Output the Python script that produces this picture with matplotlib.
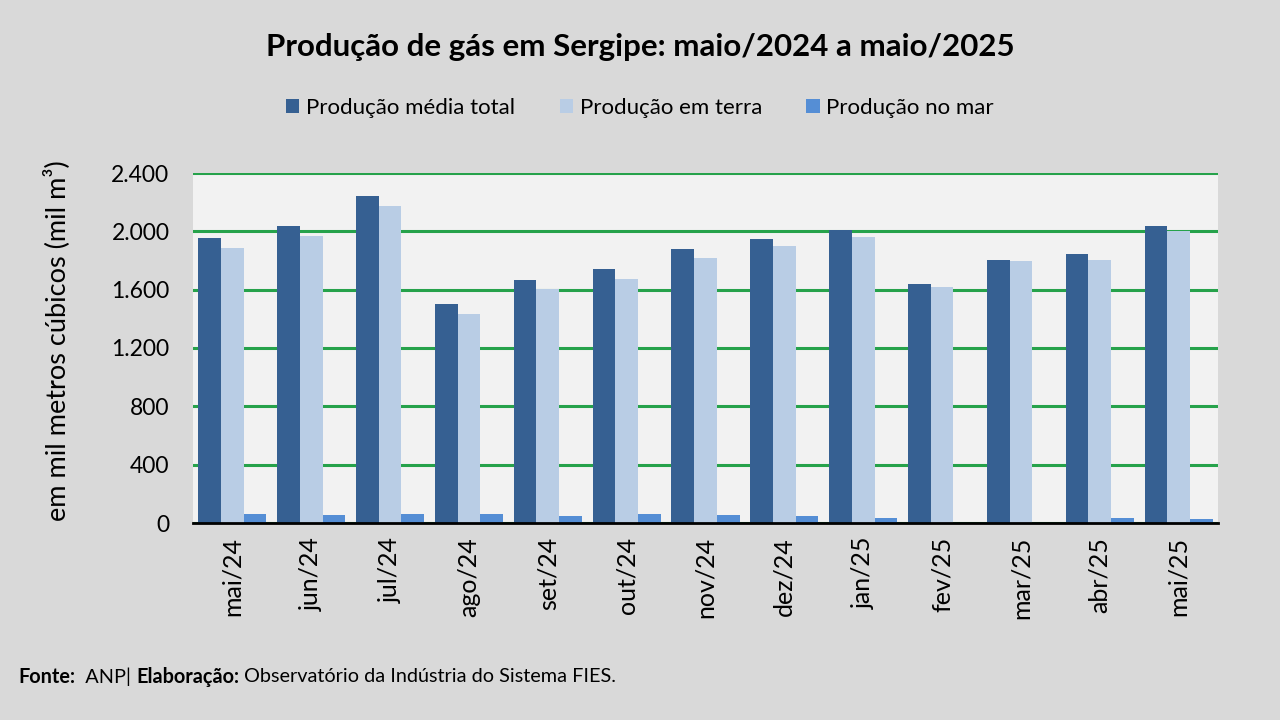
import matplotlib
matplotlib.use("Agg")
import matplotlib.pyplot as plt
import numpy as np

categories = ["mai/24", "jun/24", "jul/24", "ago/24", "set/24", "out/24", "nov/24",
              "dez/24", "jan/25", "fev/25", "mar/25", "abr/25", "mai/25"]
total = [1957, 2036, 2244, 1500, 1665, 1743, 1880, 1949, 2011, 1637, 1804, 1843, 2036]
terra = [1889, 1967, 2175, 1431, 1605, 1674, 1820, 1899, 1958, 1621, 1795, 1804, 2004]
mar = [65, 55, 65, 65, 46, 65, 58, 46, 37, 0, 0, 37, 30]
series_names = ["Produção média total", "Produção em terra", "Produção no mar"]
yticks = [0, 400, 800, 1200, 1600, 2000, 2400]
ytick_labels = ["0", "400", "800", "1.200", "1.600", "2.000", "2.400"]

FONT = ["Lato", "DejaVu Sans"]
plt.rcParams["font.family"] = FONT

c_total = "#366092"
c_terra = "#B9CDE5"
c_mar = "#558ED5"
grid_c = "#26A24B"

fig = plt.figure(figsize=(12.8, 7.2), dpi=100, facecolor="#D9D9D9")
ax = fig.add_axes([193/1280, 1-523/720, (1218-193)/1280, (523-173)/720])
ax.set_facecolor("#F2F2F2")

x = np.arange(len(categories))
w = 0.288
b1 = ax.bar(x - w, total, w, color=c_total, label=series_names[0], zorder=3)
b2 = ax.bar(x, terra, w, color=c_terra, label=series_names[1], zorder=3)
b3 = ax.bar(x + w, mar, w, color=c_mar, label=series_names[2], zorder=3)

ax.set_xlim(-0.5, len(categories) - 0.5)
ax.set_ylim(0, 2400)
ax.set_yticks(yticks)
ax.set_yticklabels(ytick_labels, fontsize=16.5, color="#000000")
ax.set_xticks(x)
ax.set_xticklabels(categories, rotation=90, fontsize=18, color="#000000")
ax.tick_params(axis="x", length=0, pad=10)
ax.tick_params(axis="y", length=0, pad=17)
ax.yaxis.grid(True, color=grid_c, linewidth=2.2, zorder=1)
ax.set_axisbelow(True)
for s in ["top", "right", "left"]:
    ax.spines[s].set_visible(False)
ax.spines["bottom"].set_color("#000000")
ax.spines["bottom"].set_linewidth(2)
ax.spines["bottom"].set_zorder(4)

ax.set_ylabel("em mil metros cúbicos (mil m³)", fontsize=19.5)
ax.yaxis.set_label_coords(-123/1025, 0.52)

fig.text(0.5, 1-47/720, "Produção de gás em Sergipe: maio/2024 a maio/2025",
         ha="center", va="center", fontsize=22.5, fontweight="bold")

fig.legend(handles=[b1, b2, b3], labels=series_names, loc="center",
           bbox_to_anchor=(0.5, 1-108/720), ncol=3, frameon=False, fontsize=16,
           handlelength=0.6, handleheight=0.6, handletextpad=0.3, columnspacing=2.0)

# footer with mixed weights
fig.canvas.draw()
renderer = fig.canvas.get_renderer()
pieces = [("Fonte:", "bold"), ("  ANP| ", "normal"), ("Elaboração:", "bold"),
          (" Observatório da Indústria do Sistema FIES.", "normal")]
xp = 18
yp = 1 - 677/720
for txt, wt in pieces:
    t = fig.text(xp/1280, yp, txt, ha="left", va="center", fontsize=14.3, fontweight=wt)
    bb = t.get_window_extent(renderer)
    xp += bb.width

fig.savefig("out.png", dpi=100, facecolor=fig.get_facecolor())
